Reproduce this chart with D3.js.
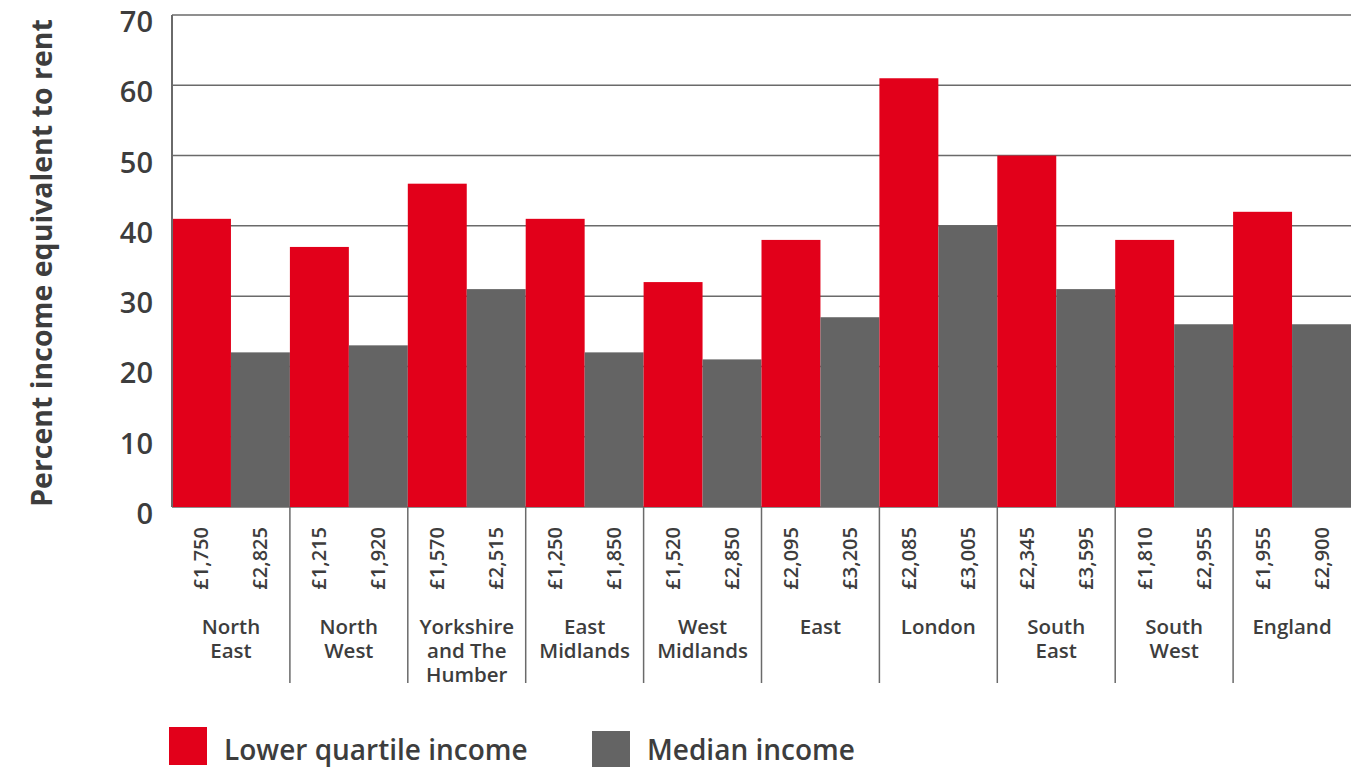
<!DOCTYPE html>
<html>
<head>
<meta charset="utf-8">
<script src="https://cdn.jsdelivr.net/npm/d3@7.9.0/dist/d3.min.js"></script>
<style>
  body { margin: 0; background: #fff; }
  svg { display: block; font-family: 'Open Sans', sans-serif; }
</style>
</head>
<body>
<svg id="chart" width="1364" height="767"></svg>
<script>
const regions = ['North East', 'North West', 'Yorkshire and The Humber', 'East Midlands',
  'West Midlands', 'East', 'London', 'South East', 'South West', 'England'];
const regionLines = [['North', 'East'], ['North', 'West'], ['Yorkshire', 'and The', 'Humber'],
  ['East', 'Midlands'], ['West', 'Midlands'], ['East'], ['London'], ['South', 'East'],
  ['South', 'West'], ['England']];
const lowerQuartile = [41, 37, 46, 41, 32, 38, 61, 50, 38, 42];
const median = [22, 23, 31, 22, 21, 27, 40, 31, 26, 26];
const lowerRent = ['£1,750', '£1,215', '£1,570', '£1,250', '£1,520', '£2,095', '£2,085', '£2,345', '£1,810', '£1,955'];
const medianRent = ['£2,825', '£1,920', '£2,515', '£1,850', '£2,850', '£3,205', '£3,005', '£3,595', '£2,955', '£2,900'];
const yTicks = [0, 10, 20, 30, 40, 50, 60, 70];
const seriesNames = ['Lower quartile income', 'Median income'];

const RED = '#e2001a', GREY = '#646464', TEXT = '#3d3d3d', LINE = '#6a6a6a';

const svg = d3.select('#chart');
const plotLeft = 172, plotRight = 1351, plotTop = 15, plotBottom = 507;

const x = d3.scaleBand().domain(regions).range([plotLeft, plotRight]).padding(0);
const sub = d3.scaleBand().domain(['lq', 'med']).range([0, x.bandwidth()]).padding(0);
const y = d3.scaleLinear().domain([0, 70]).range([plotBottom, plotTop]);

// gridlines
svg.append('g')
  .selectAll('line')
  .data(yTicks)
  .join('line')
  .attr('x1', plotLeft).attr('x2', plotRight)
  .attr('y1', d => y(d)).attr('y2', d => y(d))
  .attr('stroke', LINE).attr('stroke-width', 1.5);

// y tick labels, sitting a little below their lines
svg.append('g')
  .selectAll('text')
  .data(yTicks)
  .join('text')
  .attr('x', 153).attr('y', d => y(d) + 6.5)
  .attr('dy', '0.36em')
  .attr('text-anchor', 'end')
  .attr('font-size', 29).attr('font-weight', 600)
  .attr('fill', TEXT)
  .text(d => d);

// y title
svg.append('text')
  .attr('transform', 'translate(52,263) rotate(-90)')
  .attr('text-anchor', 'middle')
  .attr('font-size', 28.5).attr('font-weight', 700)
  .attr('fill', TEXT)
  .text('Percent income equivalent to rent');

// bars
const groups = svg.append('g')
  .selectAll('g')
  .data(regions)
  .join('g')
  .attr('transform', d => `translate(${x(d)},0)`);

groups.append('rect')
  .attr('x', sub('lq')).attr('width', sub.bandwidth())
  .attr('y', (d, i) => y(lowerQuartile[i]))
  .attr('height', (d, i) => y(0) - y(lowerQuartile[i]))
  .attr('fill', RED);

groups.append('rect')
  .attr('x', sub('med')).attr('width', sub.bandwidth())
  .attr('y', (d, i) => y(median[i]))
  .attr('height', (d, i) => y(0) - y(median[i]))
  .attr('fill', GREY);

// left axis line
svg.append('line')
  .attr('x1', plotLeft).attr('x2', plotLeft)
  .attr('y1', plotTop).attr('y2', plotBottom)
  .attr('stroke', LINE).attr('stroke-width', 2);

// category separators below axis
svg.append('g')
  .selectAll('line')
  .data(regions.slice(1))
  .join('line')
  .attr('x1', d => x(d)).attr('x2', d => x(d))
  .attr('y1', plotBottom).attr('y2', 683)
  .attr('stroke', LINE).attr('stroke-width', 1.5);

// rent labels (rotated)
const rentLabel = (sel, key, arr) => sel.append('text')
  .attr('transform', () => `translate(${sub(key) + sub.bandwidth() / 2 + 7},527) rotate(-90)`)
  .attr('text-anchor', 'end')
  .attr('font-size', 20).attr('font-weight', 600)
  .attr('fill', TEXT)
  .text((d, i) => arr[i]);
rentLabel(groups, 'lq', lowerRent);
rentLabel(groups, 'med', medianRent);

// region names
groups.append('text')
  .attr('x', x.bandwidth() / 2)
  .attr('y', 634)
  .attr('text-anchor', 'middle')
  .attr('font-size', 20.5).attr('font-weight', 600)
  .attr('fill', TEXT)
  .selectAll('tspan')
  .data((d, i) => regionLines[i])
  .join('tspan')
  .attr('x', x.bandwidth() / 2)
  .attr('dy', (d, i) => i === 0 ? 0 : 24)
  .text(d => d);

// legend
const legendX = [169, 592];
const legendColors = [RED, GREY];
const legendItems = svg.append('g').selectAll('g')
  .data(seriesNames)
  .join('g')
  .attr('transform', (d, i) => `translate(${legendX[i]},${i === 0 ? 727 : 731})`);
legendItems.append('rect')
  .attr('width', 38).attr('height', 38)
  .attr('fill', (d, i) => legendColors[i]);
legendItems.append('text')
  .attr('x', 55).attr('y', (d, i) => i === 0 ? 33 : 29)
  .attr('font-size', 28).attr('font-weight', 600)
  .attr('fill', TEXT)
  .text(d => d);
</script>
</body>
</html>
